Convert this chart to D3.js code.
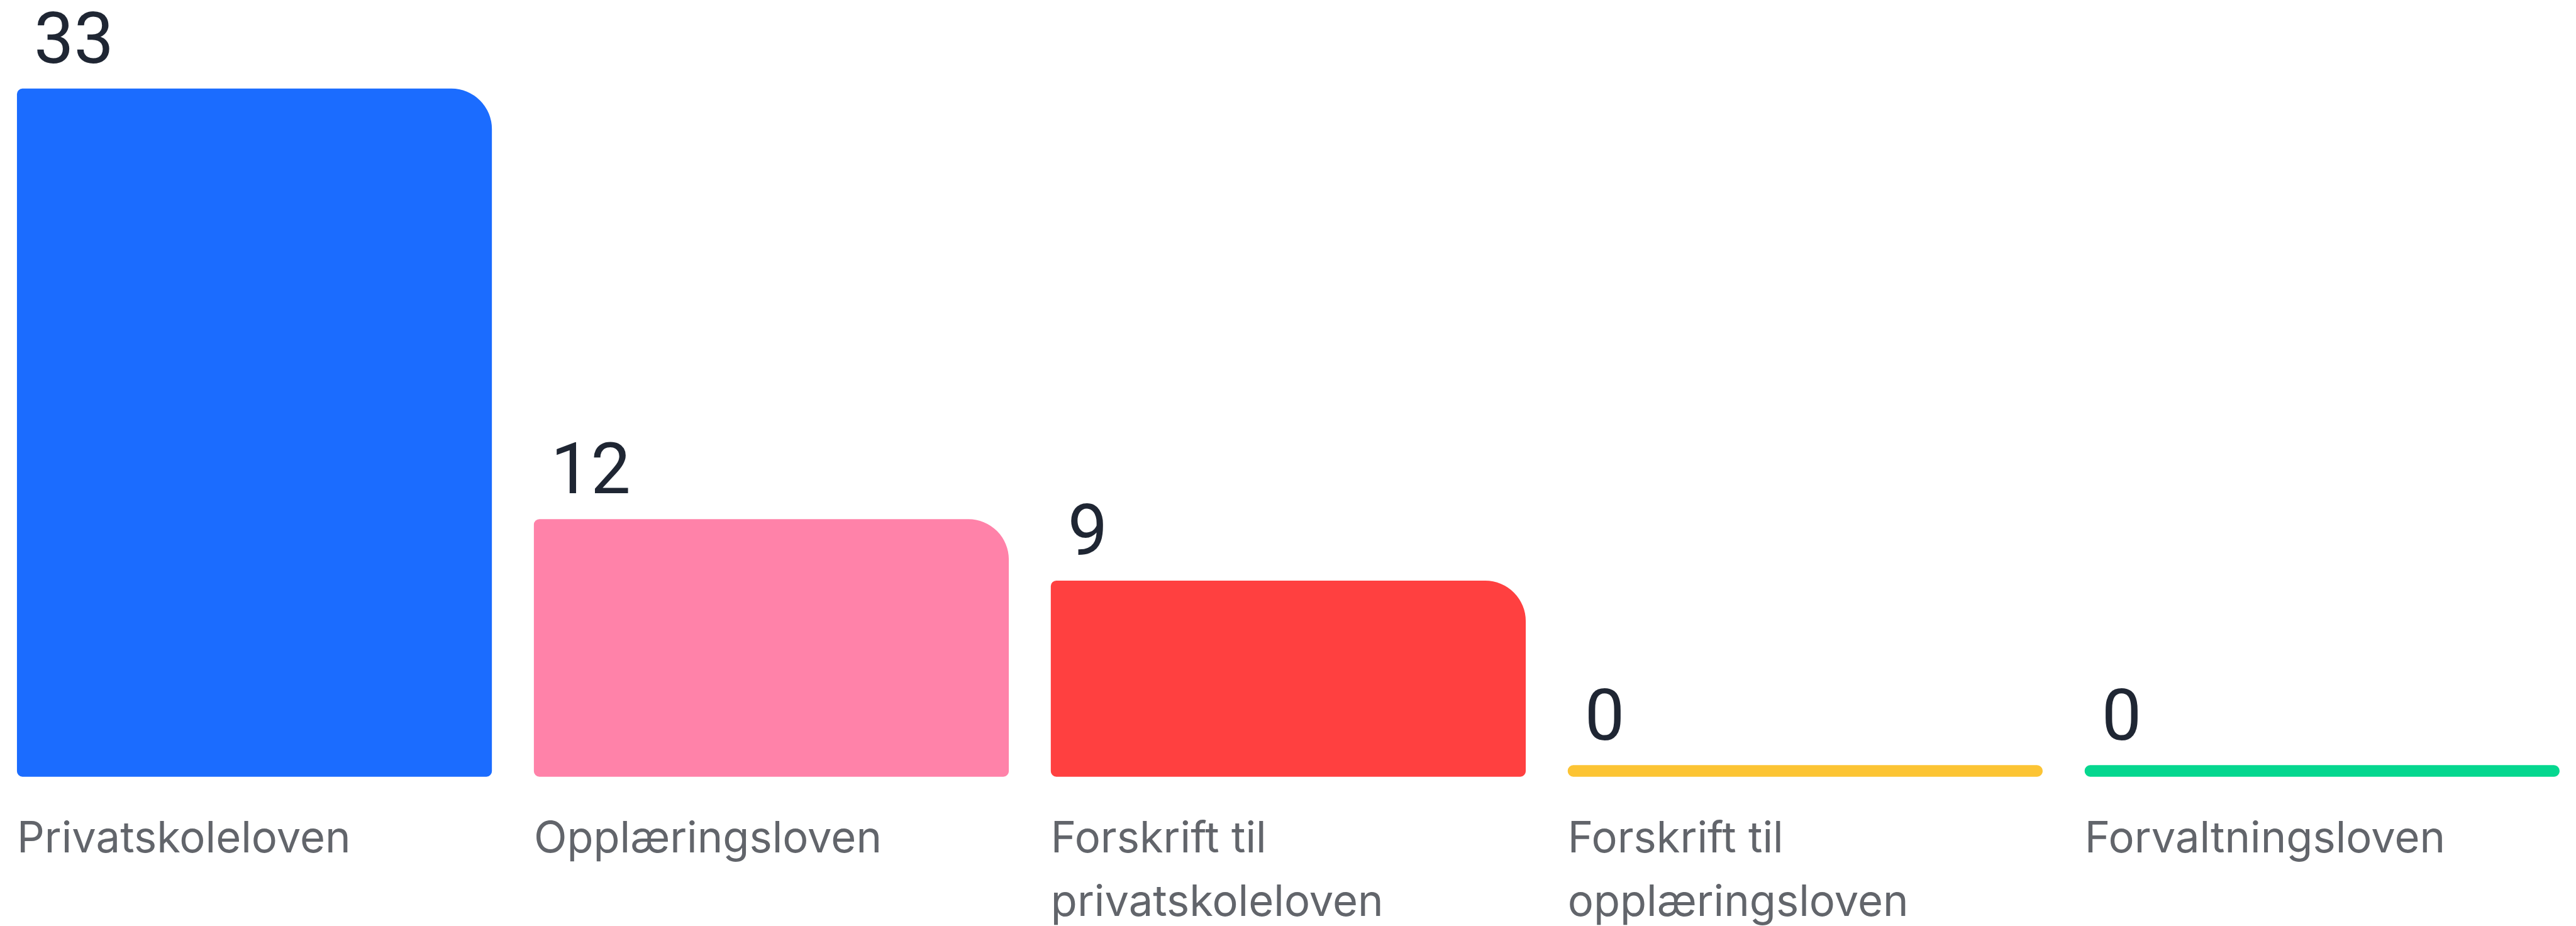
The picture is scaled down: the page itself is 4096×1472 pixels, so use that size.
<!DOCTYPE html>
<html>
<head>
<meta charset="utf-8">
<script src="https://cdn.jsdelivr.net/npm/d3@7"></script>
<style>
  html, body { margin: 0; padding: 0; background: #ffffff; }
  svg { display: block; }
</style>
</head>
<body>
<svg id="chart"></svg>
<script>
// ---- data ----
const categories = [
  "Privatskoleloven",
  "Opplæringsloven",
  "Forskrift til privatskoleloven",
  "Forskrift til opplæringsloven",
  "Forvaltningsloven"
];
const categoryLines = [
  ["Privatskoleloven"],
  ["Opplæringsloven"],
  ["Forskrift til", "privatskoleloven"],
  ["Forskrift til", "opplæringsloven"],
  ["Forvaltningsloven"]
];
const values = [33, 12, 9, 0, 0];
const colors = ["#1b6cff", "#ff82a9", "#ff4040", "#fcc434", "#05d78f"];

// ---- layout (reference pixel space, scaled by viewBox) ----
const REF_W = 4711, REF_H = 1693;
const svg = d3.select("#chart")
  .attr("width", 4096)
  .attr("height", 1472)
  .attr("viewBox", `0 0 ${REF_W} ${REF_H}`);

const barBottom = 1420;
const minBar = 21;

const x = d3.scaleBand()
  .domain(categories)
  .range([31, 4681])
  .paddingInner(0.0812)
  .paddingOuter(0);

const y = d3.scaleLinear()
  .domain([0, 33])
  .range([barBottom - minBar, 162]);

function barPath(x0, y0, w, h) {
  const rTR = Math.min(74, h / 2);
  const rS = Math.min(10, h / 2);
  const x1 = x0 + w, y1 = y0 + h;
  return [
    `M${x0 + rS},${y0}`,
    `L${x1 - rTR},${y0}`,
    `A${rTR},${rTR} 0 0 1 ${x1},${y0 + rTR}`,
    `L${x1},${y1 - rS}`,
    `A${rS},${rS} 0 0 1 ${x1 - rS},${y1}`,
    `L${x0 + rS},${y1}`,
    `A${rS},${rS} 0 0 1 ${x0},${y1 - rS}`,
    `L${x0},${y0 + rS}`,
    `A${rS},${rS} 0 0 1 ${x0 + rS},${y0}`,
    "Z"
  ].join(" ");
}

const data = categories.map((c, i) => ({ c, v: values[i], color: colors[i], lines: categoryLines[i] }));

const g = svg.append("g");

// bars
g.selectAll("path.bar")
  .data(data)
  .join("path")
  .attr("class", "bar")
  .attr("fill", d => d.color)
  .attr("d", d => {
    const top = y(d.v);
    return barPath(x(d.c), top, x.bandwidth(), barBottom - top);
  });

// value labels
g.selectAll("text.value")
  .data(data)
  .join("text")
  .attr("class", "value")
  .attr("x", d => x(d.c) + 31)
  .attr("y", d => y(d.v) - 47)
  .attr("font-family", "Roboto, 'Noto Sans', sans-serif")
  .attr("font-size", 130)
  .attr("fill", "#1f2633")
  .text(d => d.v);

// category labels
const labels = g.selectAll("text.cat")
  .data(data)
  .join("text")
  .attr("class", "cat")
  .attr("x", d => x(d.c))
  .attr("y", 1558)
  .attr("font-family", "Inter, 'Noto Sans', sans-serif")
  .attr("font-size", 79)
  .attr("fill", "#62656b");

labels.selectAll("tspan")
  .data(d => d.lines.map(l => ({ l, x: x(d.c) })))
  .join("tspan")
  .attr("x", t => t.x)
  .attr("dy", (t, i) => i === 0 ? 0 : 117)
  .text(t => t.l);
</script>
</body>
</html>
